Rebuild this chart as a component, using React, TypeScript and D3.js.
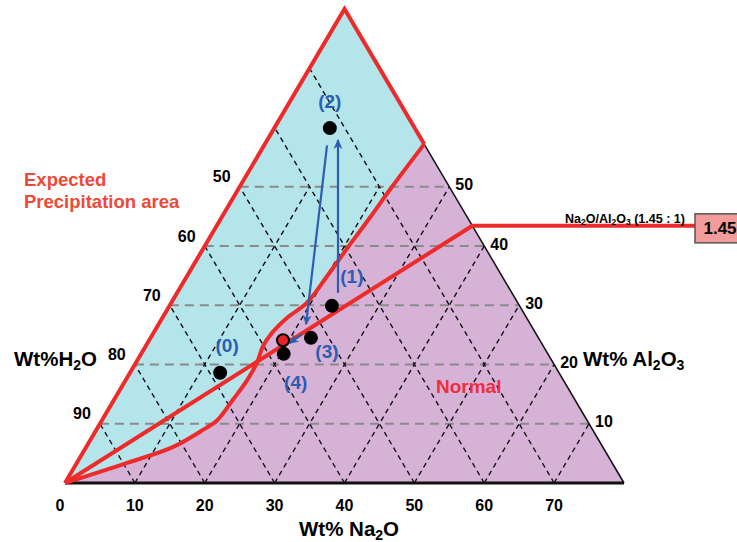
import React from 'react';
import * as d3 from 'd3';

// horizontal grid levels (shared by the H2O and Al2O3 scales)
const levels = [10, 20, 30, 40, 50];
const h2oLabels = ['90', '80', '70', '60', '50'];
const al2o3Labels = ['10', '20', '30', '40', '50'];
const na2oTicks = [0, 10, 20, 30, 40, 50, 60, 70];
const gridSteps = [10, 20, 30, 40, 50, 60, 70];

// samples: position along the Na2O base and height level on the Al2O3 scale
const sampleNames = ['(0)', '(1)', '(2)', '(3)', '(4)'];
const sampleNa = [22.2, 38.2, 37.9, 35.2, 31.3];
const sampleAl = [18.6, 29.9, 59.9, 24.5, 21.8];
const redSampleNa = [31.2];
const redSampleAl = [24.1];

// boundary between the precipitation area and the normal area
const boundaryNa = [0, 8.9, 15.5, 19.8, 21.8, 24.0, 26.1, 27.5, 28.3, 29.6, 31.8, 34.6, 37.5, 40.5, 43.7, 46.8, 51.4];
const boundaryAl = [0, 3.4, 6.1, 9.0, 10.6, 14.0, 17.4, 20.4, 23.0, 25.3, 27.9, 30.4, 34.9, 39.8, 44.9, 50.0, 57.2];

// Na2O/Al2O3 = 1.45 line end on the right side
const ratioEnd = [58.3, 43.4];

// arrows between samples
const arrowFrom = [[39.07, 32.1], [37.5, 57.0], [33.9, 25.1]];
const arrowTo = [[39.07, 57.9], [34.5, 26.8], [32.1, 23.6]];

const labelDx = [7, 20, 0, 16, 12];
const labelDy = [-27, -29, -27, 14, 29];

const FONT = 'Liberation Sans, Arial, Helvetica, sans-serif';
const RED = '#ee2b2b';
const BLUE = '#2c5db3';

export default function App() {
  const x = d3.scaleLinear().domain([0, 80]).range([65, 624]);
  const y = d3.scaleLinear().domain([0, 80]).range([483, 9]);
  const P = (na: number, al: number): [number, number] => [x(na), y(al)];

  const straight = d3.line();
  const smooth = d3.line().curve(d3.curveCatmullRom.alpha(0.5));

  const boundary = boundaryNa.map((n, i) => P(n, boundaryAl[i]));
  const boundaryPath = smooth(boundary) as string;
  const apex = P(40, 80);
  const origin = P(0, 0);
  const corner = P(80, 0);
  const edgeEnd = boundary[boundary.length - 1];

  const trianglePath = straight([origin, apex, corner]) + 'Z';
  const cyanPath = `${boundaryPath}L${apex[0]},${apex[1]}Z`;

  const ratioPt = P(ratioEnd[0], ratioEnd[1]);
  const boxX = 695;

  return (
    <svg width={737} height={542} style={{ position: 'absolute', left: 0, top: 0 }} fontFamily={FONT}>
      <defs>
        <marker id="arr" viewBox="0 0 10 10" refX="9" refY="5" markerWidth="10" markerHeight="10"
          markerUnits="userSpaceOnUse" orient="auto">
          <path d="M0,0.5L10,5L0,9.5L3,5Z" fill={BLUE} />
        </marker>
      </defs>

      <path d={trianglePath} fill="#d6b3d6" />
      <path d={cyanPath} fill="#b4e5ea" />

      {/* horizontal grid */}
      {levels.map((v) => (
        <line key={'h' + v} x1={x(v / 2)} x2={x(80 - v / 2)} y1={y(v)} y2={y(v)}
          stroke="#8a8a8a" strokeWidth={2} strokeDasharray="9,6" />
      ))}
      {/* lines parallel to the right side */}
      {gridSteps.map((k) => (
        <line key={'b' + k} x1={x(k)} y1={y(0)} x2={x(k / 2)} y2={y(k)}
          stroke="#111" strokeWidth={1.4} strokeDasharray="5,4" />
      ))}
      {/* lines parallel to the left side, stopped at the 50 level */}
      {gridSteps.map((k) => {
        const top = Math.min(80 - k, 50);
        return (
          <line key={'f' + k} x1={x(k)} y1={y(0)} x2={x(k + top / 2)} y2={y(top)}
            stroke="#111" strokeWidth={1.4} strokeDasharray="5,4" />
        );
      })}

      <line x1={edgeEnd[0]} y1={edgeEnd[1]} x2={corner[0]} y2={corner[1]} stroke="#111" strokeWidth={1.5} />
      <line x1={origin[0]} y1={origin[1]} x2={corner[0]} y2={corner[1]} stroke="#111" strokeWidth={3} />

      {/* red boundaries */}
      <path d={straight([origin, apex, edgeEnd]) as string} fill="none" stroke={RED} strokeWidth={4} strokeLinejoin="miter" />
      <path d={boundaryPath} fill="none" stroke={RED} strokeWidth={4} />
      <path d={straight([origin, ratioPt, [boxX, ratioPt[1]]]) as string} fill="none" stroke={RED} strokeWidth={4} />

      {/* ratio box */}
      <rect x={boxX} y={ratioPt[1] - 12} width={60} height={29} fill="#f39c9c" stroke="#555" strokeWidth={1.5} />
      <text x={720} y={ratioPt[1] + 3} textAnchor="middle" dominantBaseline="central" fontSize={17} fontWeight="bold">1.45</text>
      <text x={625} y={ratioPt[1] - 3} textAnchor="middle" fontSize={12.5} fontWeight="bold">
        Na<tspan fontSize={8.5} dy={2}>2</tspan><tspan dy={-2}>O/Al</tspan><tspan fontSize={8.5} dy={2}>2</tspan><tspan dy={-2}>O</tspan><tspan fontSize={8.5} dy={2}>3</tspan><tspan dy={-2}> (1.45 : 1)</tspan>
      </text>

      {/* arrows */}
      {arrowFrom.map((f, i) => {
        const a = P(f[0], f[1]);
        const b = P(arrowTo[i][0], arrowTo[i][1]);
        return <line key={'a' + i} x1={a[0]} y1={a[1]} x2={b[0]} y2={b[1]} stroke={BLUE} strokeWidth={2.2} markerEnd="url(#arr)" />;
      })}

      {/* samples */}
      {sampleNames.map((name, i) => {
        const p = P(sampleNa[i], sampleAl[i]);
        return (
          <g key={name}>
            <circle cx={p[0]} cy={p[1]} r={7} fill="#000" />
            <text x={p[0] + labelDx[i]} y={p[1] + labelDy[i]} textAnchor="middle" dominantBaseline="central"
              fontSize={19} fontWeight="bold" fill={BLUE}>{name}</text>
          </g>
        );
      })}
      {redSampleNa.map((n, i) => {
        const p = P(n, redSampleAl[i]);
        return <circle key={'r' + i} cx={p[0]} cy={p[1]} r={6} fill="#e8222a" stroke="#000" strokeWidth={2} />;
      })}

      {/* axis labels */}
      {levels.map((v, i) => (
        <text key={'lh' + v} x={x(v / 2) - 18} y={y(v) - 10} textAnchor="middle" dominantBaseline="central"
          fontSize={16} fontWeight="bold">{h2oLabels[i]}</text>
      ))}
      {levels.map((v, i) => (
        <text key={'la' + v} x={x(80 - v / 2) + 6} y={y(v) - 2} dominantBaseline="central"
          fontSize={16} fontWeight="bold">{al2o3Labels[i]}</text>
      ))}
      {na2oTicks.map((t) => (
        <text key={'ln' + t} x={x(t) - (t === 0 ? 5 : 0)} y={505} textAnchor="middle" dominantBaseline="central"
          fontSize={16} fontWeight="bold">{t}</text>
      ))}

      <text x={14} y={366} fontSize={20.5} fontWeight="bold">
        Wt%H<tspan fontSize={14} dy={4}>2</tspan><tspan dy={-4}>O</tspan>
      </text>
      <text x={583} y={366} fontSize={20.5} fontWeight="bold">
        Wt% Al<tspan fontSize={14} dy={4}>2</tspan><tspan dy={-4}>O</tspan><tspan fontSize={14} dy={4}>3</tspan>
      </text>
      <text x={299} y={536} fontSize={20.5} fontWeight="bold">
        Wt% Na<tspan fontSize={14} dy={4}>2</tspan><tspan dy={-4}>O</tspan>
      </text>

      <text x={24} y={186} fontSize={18.5} fontWeight="bold" fill="#ef4836">Expected</text>
      <text x={24} y={208} fontSize={18.5} fontWeight="bold" fill="#ef4836">Precipitation area</text>
      <text x={436} y={393} fontSize={19} fontWeight="bold" fill="#ee2e3e">Normal</text>
    </svg>
  );
}
